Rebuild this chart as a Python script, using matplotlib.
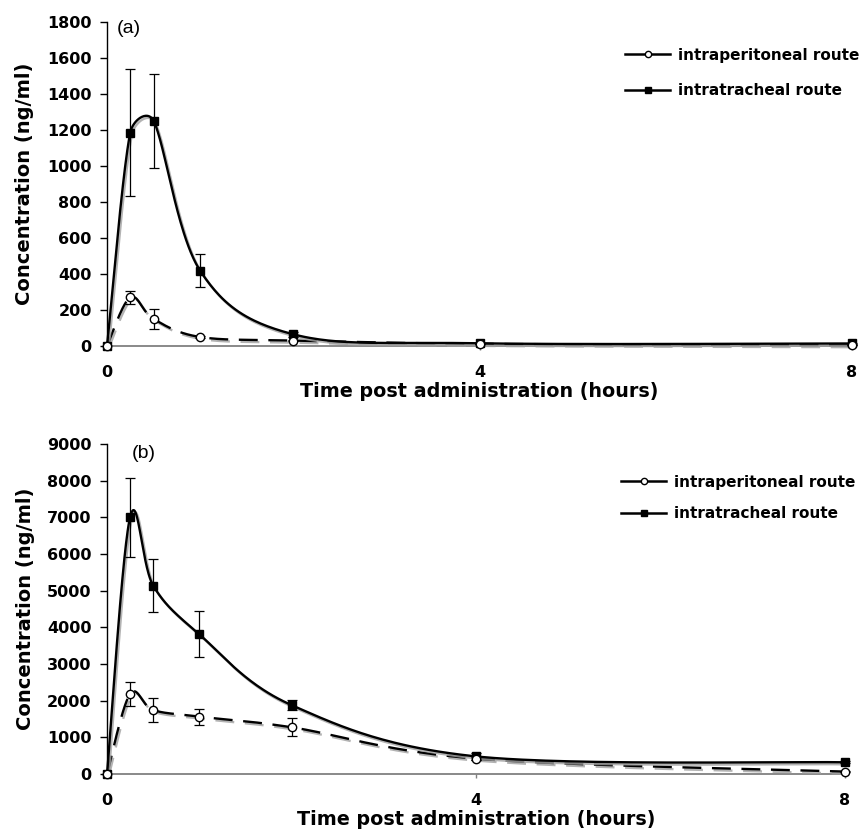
import matplotlib
matplotlib.use('Agg')
import matplotlib.pyplot as plt
import matplotlib.patheffects as pe
from matplotlib.lines import Line2D
import numpy as np

# sampling times (hours)
times = [0, 0.25, 0.5, 1, 2, 4, 8]

# panel (a)
a_it = [0, 1185, 1250, 418, 65, 15, 14]
a_it_err = [0, 352, 260, 92, 15, 4, 3]
a_ip = [0, 270, 150, 50, 30, 12, 5]
a_ip_err = [0, 36, 55, 6, 5, 2, 2]

# panel (b)
b_it = [0, 7000, 5140, 3810, 1880, 480, 320]
b_it_err = [0, 1080, 735, 625, 130, 100, 30]
b_ip = [0, 2180, 1745, 1565, 1275, 420, 65]
b_ip_err = [0, 320, 320, 220, 245, 40, 20]

labels = ['intraperitoneal route', 'intratracheal route']


def ctrl(tangent, seg_len):
    # tangent/6, but never longer than half of the segment
    off = tangent / 6.0
    n = np.linalg.norm(off)
    if n > seg_len / 2 and n > 0:
        off = off * (seg_len / 2) / n
    return off


def excel_smooth(x, y, sx, sy, n=50):
    # bezier smoothing like a spreadsheet "smoothed line", done in pixel space
    pts = np.column_stack([np.asarray(x, float) * sx, np.asarray(y, float) * sy])
    P = np.vstack([pts[0], pts, pts[-1]])
    out = []
    t = np.linspace(0, 1, n)[:, None]
    for i in range(1, len(P) - 2):
        p0, p1, p2, p3 = P[i - 1], P[i], P[i + 1], P[i + 2]
        di = np.linalg.norm(p2 - p1)
        c1 = p1 + ctrl(p2 - p0, di)
        c2 = p2 - ctrl(p3 - p1, di)
        seg = (1 - t)**3 * p1 + 3 * (1 - t)**2 * t * c1 + 3 * (1 - t) * t**2 * c2 + t**3 * p2
        out.append(seg if i == 1 else seg[1:])
    out = np.vstack(out)
    return out[:, 0] / sx, out[:, 1] / sy


shadow = [pe.SimpleLineShadow(offset=(1.2, -1.5), shadow_color='#a0a0a0', alpha=0.8),
          pe.Normal()]

fig = plt.figure(figsize=(8.66, 8.34), dpi=100)
ax_a = fig.add_axes([107/866, 1 - 346/834, 745/866, (346 - 21.7)/834])
ax_b = fig.add_axes([107/866, 1 - 774/834, 738/866, (774 - 444)/834])

bold = dict(family='DejaVu Sans', weight='bold')


def draw(ax, it, it_err, ip, ip_err, ymax, ystep, tag, tag_xy, leg_xy, leg_sp, wpx, hpx):
    sx, sy = wpx / 8.0, hpx / ymax
    cx, cy = excel_smooth(times, ip, sx, sy)
    ax.plot(cx, cy, color='black', lw=1.7, dashes=(8, 4.5), path_effects=shadow,
            clip_on=False, zorder=3)
    cx, cy = excel_smooth(times, it, sx, sy)
    ax.plot(cx, cy, color='black', lw=1.7, path_effects=shadow, clip_on=False, zorder=3)

    ax.errorbar(times[1:], ip[1:], yerr=ip_err[1:], fmt='none', ecolor='black',
                elinewidth=0.9, capsize=3.5, capthick=0.9, clip_on=False, zorder=4)
    ax.errorbar(times[1:], it[1:], yerr=it_err[1:], fmt='none', ecolor='black',
                elinewidth=0.9, capsize=3.5, capthick=0.9, clip_on=False, zorder=4)
    ax.plot(times, it, ls='none', marker='s', ms=5.5, color='black', clip_on=False, zorder=5)
    ax.plot(times, ip, ls='none', marker='o', ms=6, mfc='white', mec='black', mew=1,
            clip_on=False, zorder=6)

    ax.set_xlim(0, 8)
    ax.set_ylim(0, ymax)
    ax.set_xticks([0, 4, 8])
    ax.set_yticks(np.arange(0, ymax + 1, ystep))
    for s in ['top', 'right']:
        ax.spines[s].set_visible(False)
    ax.spines['left'].set_linewidth(1.0)
    ax.spines['bottom'].set_color('#808080')
    ax.spines['bottom'].set_linewidth(1.3)
    ax.tick_params(axis='y', direction='out', length=5, width=1, pad=6)
    ax.tick_params(axis='x', direction='out', length=3, width=1, color='#808080', pad=11)
    for lab in ax.get_xticklabels() + ax.get_yticklabels():
        lab.set_fontproperties(matplotlib.font_manager.FontProperties(family='DejaVu Sans',
                                                                      weight='bold', size=11.5))
    ax.set_xlabel('Time post administration (hours)', fontsize=13.8, labelpad=1, **bold)
    ax.set_ylabel('Concentration (ng/ml)', fontsize=14, **bold)
    ax.yaxis.set_label_coords(-0.098, 0.5)
    ax.text(tag_xy[0], tag_xy[1], tag, transform=ax.transAxes, fontsize=14,
            family='Liberation Sans', va='center', ha='left')

    handles = [Line2D([], [], color='black', lw=1.8, marker='o', ms=4.5, mfc='white', mec='black'),
               Line2D([], [], color='black', lw=1.8, marker='s', ms=4.5)]
    ax.legend(handles, labels, loc='upper left', bbox_to_anchor=leg_xy,
              bbox_transform=fig.transFigure, frameon=False, borderpad=0,
              handlelength=3.0, handletextpad=0.5, labelspacing=leg_sp,
              prop=dict(family='DejaVu Sans', weight='bold', size=11))


draw(ax_a, a_it, a_it_err, a_ip, a_ip_err, 1800, 200, '(a)',
     (0.013, 0.98), (617/866, 1 - 40/834), 1.35, 745, 324.3)
draw(ax_b, b_it, b_it_err, b_ip, b_ip_err, 9000, 1000, '(b)',
     (0.034, 0.97), (613/866, 1 - 467/834), 1.1, 738, 330)

fig.savefig('out.png', dpi=100)
